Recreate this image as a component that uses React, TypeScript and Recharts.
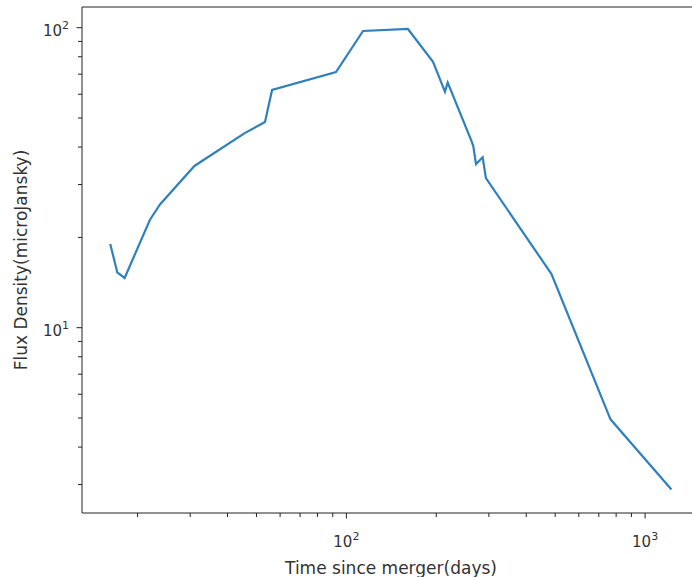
import React from "react";
import {
  Line,
  LineChart,
  ReferenceLine,
  XAxis,
  YAxis,
} from "recharts";

// values (log-log light curve)
const days = [
  16.2, 17.1, 18.1, 22.0, 23.8, 31.0, 45.8, 53.4, 56.4, 92.3, 113.7, 160.7,
  195, 213.8, 218.4, 262.8, 266, 271.6, 285.9, 293.2, 486, 766, 1225,
];
const flux = [
  19.0, 15.3, 14.65, 22.9, 25.8, 34.6, 44.6, 48.5, 62.0, 71.1, 97.5, 99,
  76.9, 61.2, 65.6, 41.7, 40.3, 35.1, 37.0, 31.5, 15.1, 4.95, 2.89,
];

const xTicks = [20, 30, 40, 50, 60, 70, 80, 90, 100, 200, 300, 400, 500, 600, 700, 800, 900, 1000];
const yTicks = [3, 4, 5, 6, 7, 8, 9, 10, 20, 30, 40, 50, 60, 70, 80, 90, 100];
const xMajor = [100, 1000];
const yMajor = [10, 100];

const xDomain = [13.03, 1527];
const yDomain = [2.412, 117.2];

const data = days.map((t, i) => ({ t, flux: flux[i] }));

const FONT = "DejaVu Sans";
const AXIS = "#222";

const expOf = (v: number) => Math.round(Math.log10(v));

const XTick = (props: any) => {
  const { x, y, payload } = props;
  const v = payload.value;
  const major = xMajor.includes(v);
  return (
    <g>
      <line x1={x} y1={y} x2={x} y2={y + (major ? 5.5 : 4)} stroke={AXIS} strokeWidth={1} />
      {major && (
        <text x={x} y={y + 34} textAnchor="middle" fontFamily={FONT} fontSize={15} fill="#333">
          <tspan>10</tspan>
          <tspan dy={-7} fontSize={11}>{expOf(v)}</tspan>
        </text>
      )}
    </g>
  );
};

const YTick = (props: any) => {
  const { x, y, payload } = props;
  const v = payload.value;
  const major = yMajor.includes(v);
  return (
    <g>
      <line x1={x} y1={y} x2={x - (major ? 5.5 : 4)} y2={y} stroke={AXIS} strokeWidth={1} />
      {major && (
        <text x={x - 13} y={y + 8} textAnchor="end" fontFamily={FONT} fontSize={15} fill="#333">
          <tspan>10</tspan>
          <tspan dy={-7} fontSize={11}>{expOf(v)}</tspan>
        </text>
      )}
    </g>
  );
};

export default function App() {
  return (
    <div
      style={{
        position: "absolute",
        left: 0,
        top: 0,
        width: 692,
        height: 577,
        overflow: "hidden",
        background: "#fff",
      }}
    >
      <LineChart width={700} height={577} data={data} margin={{ top: 7, right: 0, bottom: 0, left: 0 }}>
        <XAxis
          dataKey="t"
          type="number"
          scale="log"
          domain={xDomain}
          allowDataOverflow
          ticks={xTicks}
          interval={0}
          tickSize={0}
          tickMargin={0}
          tickLine={false}
          tick={XTick}
          axisLine={{ stroke: AXIS, strokeWidth: 1 }}
          height={64}
          label={{
            content: (p: any) => {
              const vb = p.viewBox;
              return (
                <text
                  x={vb.x + vb.width / 2}
                  y={vb.y + vb.height - 3}
                  textAnchor="middle"
                  fontFamily={FONT}
                  fontSize={17}
                  fill="#333"
                >
                  Time since merger(days)
                </text>
              );
            },
          }}
        />
        <YAxis
          type="number"
          scale="log"
          domain={yDomain}
          allowDataOverflow
          ticks={yTicks}
          interval={0}
          tickSize={0}
          tickMargin={0}
          tickLine={false}
          tick={YTick}
          axisLine={{ stroke: AXIS, strokeWidth: 1 }}
          width={82}
          label={{
            content: (p: any) => {
              const vb = p.viewBox;
              const cx = vb.x + 27;
              const cy = vb.y + vb.height / 2;
              return (
                <text
                  x={cx}
                  y={cy}
                  transform={`rotate(-90 ${cx} ${cy})`}
                  textAnchor="middle"
                  fontFamily={FONT}
                  fontSize={17}
                  fill="#333"
                >
                  Flux Density(microJansky)
                </text>
              );
            },
          }}
        />
        <ReferenceLine y={yDomain[1]} stroke={AXIS} strokeWidth={1} ifOverflow="extendDomain" />
        <Line
          type="linear"
          dataKey="flux"
          stroke="#2f80bd"
          strokeWidth={2.2}
          dot={false}
          isAnimationActive={false}
        />
      </LineChart>
    </div>
  );
}
